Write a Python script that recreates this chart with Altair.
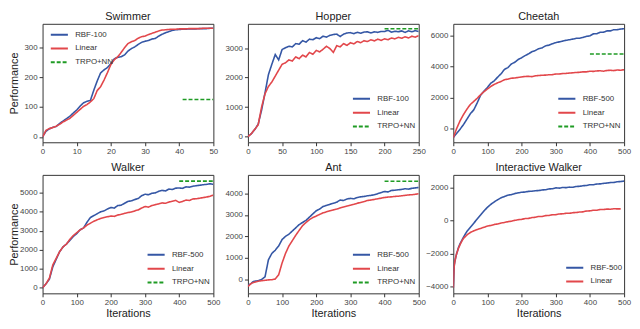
import altair as alt
import pandas as pd

FONT = "Liberation Sans"
BLUE = "#3557a5"
RED = "#e2474b"
GREEN = "#1f9b24"

# ---------------- Swimmer ----------------
swim_x = list(range(0, 51))
swim_rbf = [0, 19, 27, 32, 35, 45, 53, 61, 69, 80, 90, 103, 114, 119, 122, 156, 187, 214, 224, 232,
            245, 261, 266, 268, 274, 287, 295, 301, 309, 316, 320, 322, 327, 329, 337, 343, 348, 352,
            356, 358, 359, 360, 360, 361, 361, 361, 362, 362, 362, 363, 363]
swim_lin = [0, 22, 28, 31, 36, 42, 50, 56, 62, 72, 82, 92, 102, 108, 117, 128, 155, 168, 190, 215,
            242, 258, 268, 282, 298, 312, 318, 322, 330, 335, 337, 342, 346, 350, 354, 357, 358, 359,
            360, 360, 361, 361, 361, 362, 362, 362, 362, 363, 363, 363, 363]

# ---------------- Hopper ----------------
hop_x = list(range(0, 251, 5))
hop_rbf = [0, 100, 240, 420, 900, 1480, 2100, 2450, 2780, 2600, 2950, 3010, 3060, 3040, 3150, 3130,
           3250, 3200, 3300, 3280, 3350, 3320, 3400, 3370, 3430, 3460, 3470, 3390, 3470, 3510, 3520,
           3490, 3530, 3500, 3540, 3550, 3510, 3550, 3530, 3560, 3560, 3600, 3540, 3570, 3550, 3580,
           3530, 3580, 3550, 3590, 3560]
hop_lin = [0, 100, 250, 400, 1000, 1450, 1700, 1850, 2050, 2250, 2450, 2500, 2600, 2560, 2700, 2640,
           2760, 2700, 2850, 2790, 2920, 2870, 2960, 3060, 2980, 2850, 3080, 3040, 3150, 3090, 3180,
           3140, 3220, 3180, 3250, 3220, 3280, 3240, 3300, 3260, 3310, 3280, 3340, 3310, 3360, 3330,
           3380, 3340, 3400, 3370, 3420]

# ---------------- Cheetah ----------------
chee_x = [0, 5, 10, 20, 30, 40, 50] + list(range(60, 501, 10))
chee_rbf = [-600, -450, -320, -50, 250, 600, 950,
            1200, 1650, 2150, 2420, 2650, 2930, 3080, 3320, 3540, 3820, 3940, 4170, 4280, 4460, 4570,
            4710, 4820, 4960, 5040, 5160, 5210, 5340, 5390, 5480, 5550, 5600, 5650, 5700, 5740, 5780,
            5830, 5840, 5890, 5960, 5990, 6120, 6130, 6220, 6230, 6310, 6310, 6390, 6390, 6430, 6450]
chee_lin = [-600, -300, 0, 500, 900, 1250, 1550,
            1750, 1950, 2180, 2380, 2550, 2720, 2850, 2950, 3040, 3150, 3190, 3250, 3260, 3300, 3330,
            3360, 3370, 3350, 3400, 3420, 3440, 3450, 3470, 3480, 3520, 3520, 3550, 3560, 3580, 3600,
            3620, 3630, 3660, 3660, 3700, 3690, 3720, 3730, 3700, 3750, 3760, 3740, 3780, 3760, 3800]

# ---------------- Walker ----------------
walk_x = list(range(0, 501, 10))
walk_rbf = [0, 200, 450, 1100, 1500, 1900, 2150, 2300, 2500, 2700, 2850, 3050, 3150, 3450, 3700,
            3800, 3900, 4000, 4050, 4150, 4230, 4200, 4330, 4350, 4450, 4550, 4580, 4650, 4700, 4850,
            4930, 4900, 4980, 5000, 5080, 5130, 5100, 5200, 5180, 5250, 5260, 5240, 5320, 5300, 5350,
            5380, 5400, 5430, 5450, 5480, 5450]
walk_lin = [0, 200, 500, 1200, 1550, 1900, 2150, 2300, 2550, 2750, 2900, 3050, 3150, 3300, 3400,
            3500, 3580, 3650, 3700, 3740, 3780, 3760, 3830, 3870, 3920, 3960, 3990, 4050, 4100, 4200,
            4280, 4250, 4330, 4380, 4420, 4470, 4450, 4520, 4560, 4600, 4500, 4550, 4620, 4600, 4680,
            4690, 4720, 4750, 4780, 4820, 4880]

# ---------------- Ant ----------------
ant_x = [0, 5, 10, 15, 20, 30, 40, 50, 55, 60, 65, 70] + list(range(80, 501, 10))
ant_rbf = [-300, -250, -200, -120, -100, -80, -20, 100, 500, 900, 1050, 1200,
           1350, 1550, 1850, 2000, 2100, 2250, 2400, 2550, 2650, 2750, 2900, 3050, 3200, 3280, 3400,
           3450, 3500, 3550, 3600, 3700, 3680, 3750, 3780, 3760, 3820, 3850, 3870, 3900, 3920, 3950,
           4000, 4050, 4100, 4080, 4150, 4160, 4180, 4200, 4230, 4210, 4250, 4270, 4290]
ant_lin = [-350, -280, -200, -170, -150, -100, -80, -60, -50, -40, -35, -30,
           0, 200, 750, 1200, 1550, 1800, 2050, 2280, 2500, 2650, 2780, 2880, 2950, 3030, 3100,
           3150, 3200, 3240, 3280, 3330, 3380, 3420, 3460, 3500, 3550, 3590, 3630, 3680, 3700, 3730,
           3760, 3790, 3820, 3840, 3850, 3870, 3880, 3900, 3920, 3940, 3950, 3970, 4000]

# ---------------- Interactive Walker ----------------
iw_x = [0, 1, 2, 3, 5, 7, 10, 15, 20, 25, 30] + list(range(40, 501, 10))
iw_rbf = [-4100, -3500, -3000, -2700, -2450, -2250, -2000, -1650, -1400, -1200, -1000,
          -650, -400, -150, 100, 350, 600, 820, 1000, 1150, 1280, 1400, 1480, 1560, 1590, 1660,
          1700, 1740, 1750, 1790, 1800, 1830, 1840, 1880, 1890, 1940, 1950, 2010, 1990, 2030, 2020,
          2050, 2040, 2090, 2100, 2140, 2150, 2200, 2200, 2240, 2250, 2280, 2300, 2330, 2340, 2380,
          2390, 2420]
iw_lin = [-4100, -3500, -3000, -2700, -2450, -2250, -2000, -1700, -1450, -1250, -1080,
          -870, -720, -620, -540, -470, -400, -330, -290, -230, -200, -140, -110, -60, -30, 20,
          60, 80, 130, 140, 190, 210, 260, 260, 310, 320, 360, 370, 410, 420, 450, 450, 490, 500,
          530, 540, 590, 600, 640, 640, 680, 680, 710, 700, 730, 720, 720]

TRPO = "TRPO+NN"


def panel(title, xs, rbf, lin, rbf_name, xmax, ydom, yticks, xticks, lx, ly,
          trpo=None, ytitle=False, xtitle=False):
    recs = []
    for a, b in zip(xs, rbf):
        recs.append({"it": a, "perf": b, "series": rbf_name})
    for a, b in zip(xs, lin):
        recs.append({"it": a, "perf": b, "series": "Linear"})
    domain = [rbf_name, "Linear"]
    colors = [BLUE, RED]
    dashes = [[1, 0], [1, 0]]
    if trpo is not None:
        recs.append({"it": trpo[0], "perf": trpo[1], "series": TRPO})
        recs.append({"it": xmax, "perf": trpo[1], "series": TRPO})
        domain.append(TRPO)
        colors.append(GREEN)
        dashes.append([4, 2])
    df = pd.DataFrame(recs)

    xaxis = dict(values=xticks, labelFlush=False, format="d")
    xaxis["title"] = "Iterations" if xtitle else None
    yaxis = dict(values=yticks, format="d", minExtent=22, maxExtent=22)
    yaxis["title"] = "Performance" if ytitle else None

    leg = alt.Legend(title=None, orient="none", legendX=lx, legendY=ly)
    return alt.Chart(df).mark_line(strokeWidth=1.6, clip=True).encode(
        x=alt.X("it:Q", scale=alt.Scale(domain=[0, xmax], nice=False, zero=False),
                axis=alt.Axis(**xaxis)),
        y=alt.Y("perf:Q", scale=alt.Scale(domain=ydom, nice=False, zero=False),
                axis=alt.Axis(**yaxis)),
        color=alt.Color("series:N", scale=alt.Scale(domain=domain, range=colors), legend=leg),
        strokeDash=alt.StrokeDash("series:N", scale=alt.Scale(domain=domain, range=dashes), legend=leg),
    ).properties(width=173, height=120, title=title)


p1 = panel("Swimmer", swim_x, swim_rbf, swim_lin, "RBF-100", 50, [-18, 378], [0, 100, 200, 300],
           [0, 10, 20, 30, 40, 50], 7, 1, trpo=(41, 125), ytitle=True)
p2 = panel("Hopper", hop_x, hop_rbf, hop_lin, "RBF-100", 250, [-190, 3820], [0, 1000, 2000, 3000],
           [0, 50, 100, 150, 200, 250], 105, 66, trpo=(200, 3650))
p3 = panel("Cheetah", chee_x, chee_rbf, chee_lin, "RBF-500", 500, [-900, 6770], [0, 2000, 4000, 6000],
           [0, 100, 200, 300, 400, 500], 105, 66, trpo=(400, 4820))
p4 = panel("Walker", walk_x, walk_rbf, walk_lin, "RBF-500", 500, [-300, 5950],
           [0, 1000, 2000, 3000, 4000, 5000], [0, 100, 200, 300, 400, 500], 105, 71,
           trpo=(400, 5620), ytitle=True, xtitle=True)
p5 = panel("Ant", ant_x, ant_rbf, ant_lin, "RBF-500", 500, [-670, 4880], [0, 1000, 2000, 3000, 4000],
           [0, 100, 200, 300, 400, 500], 105, 71, trpo=(400, 4580), xtitle=True)
p6 = panel("Interactive Walker", iw_x, iw_rbf, iw_lin, "RBF-500", 500, [-4440, 2800],
           [-4000, -2000, 0, 2000], [0, 100, 200, 300, 400, 500], 113, 84, xtitle=True)

chart = alt.concat(p1, p2, p3, p4, p5, p6, columns=3,
                   spacing={"row": 33, "column": 35}, bounds="flush").resolve_scale(
    color="independent", strokeDash="independent"
).properties(padding=0).configure_view(
    stroke="#333333", strokeWidth=1
).configure_axis(
    grid=False, domain=False, tickColor="#333333", tickSize=3.5, labelPadding=2,
    labelFont=FONT, labelFontSize=8, labelColor="#444444",
    titleFont=FONT, titleFontSize=11, titleFontWeight="normal", titleColor="#222222",
    titlePadding=1
).configure_title(
    font=FONT, fontSize=11, fontWeight="normal", color="#222222", offset=2
).configure_legend(
    labelFont=FONT, labelFontSize=8, labelColor="#333333", symbolType="stroke",
    symbolSize=300, symbolStrokeWidth=2, rowPadding=-4, padding=0, labelOffset=6
)

chart.save("out.html", embed_options={"renderer": "svg", "actions": False})
